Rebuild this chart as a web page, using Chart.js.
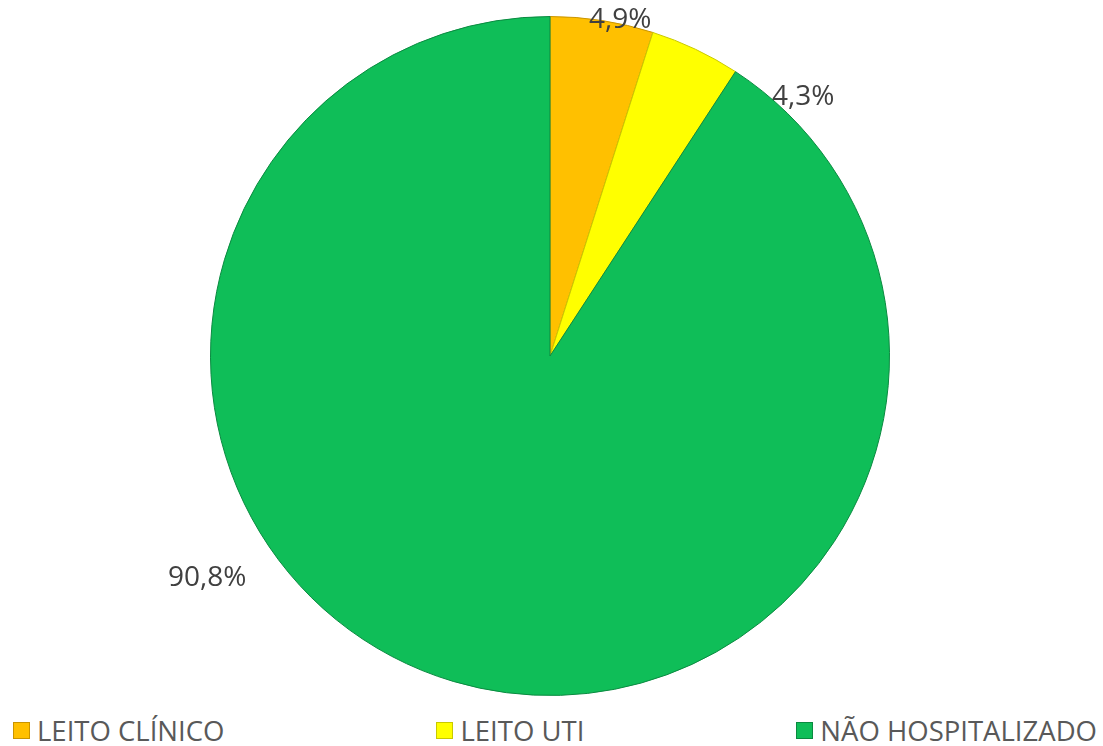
<!DOCTYPE html>
<html>
<head>
<meta charset="utf-8">
<script src="https://cdn.jsdelivr.net/npm/chart.js@4.4.1/dist/chart.umd.min.js"></script>
<style>
  html, body { margin:0; padding:0; background:#fff; }
  #wrap { position:relative; width:1103px; height:712px; }
  #legend { display:flex; justify-content:space-between; align-items:center; height:36px;
            padding:0 6px 0 13px; font-family:"Open Sans", sans-serif; font-size:27.5px; color:#595959; }
  #legend span.item { display:flex; align-items:center; white-space:nowrap; }
  #legend i { display:inline-block; width:17px; height:17px; margin-right:7px; box-sizing:border-box; }
</style>
</head>
<body>
<div id="wrap"><canvas id="pie"></canvas></div>
<div id="legend"></div>
<script>
const categories = ['LEITO CLÍNICO', 'LEITO UTI', 'NÃO HOSPITALIZADO'];
const shares = [4.9, 4.3, 90.8];
const labels = ['4,9%', '4,3%', '90,8%'];
const colors = ['#FFC000', '#FFFF00', '#0FBE58'];
const edgeColors = ['#C99400', '#C9C900', '#0A8A40'];
// where Excel put each percentage: angle shift from slice middle (deg) and radius factor
const labelShift = [3.0, 19.0, 40.5];
const labelDist = [1.01, 1.066, 1.203];

const pctLabels = {
  id: 'pctLabels',
  afterDatasetsDraw(chart){
    const ctx = chart.ctx;
    const meta = chart.getDatasetMeta(0);
    ctx.save();
    ctx.font = '28px "Open Sans", sans-serif';
    ctx.fillStyle = '#404040';
    ctx.textAlign = 'center';
    ctx.textBaseline = 'middle';
    meta.data.forEach((arc, i) => {
      const a = (arc.startAngle + arc.endAngle) / 2 + labelShift[i] * Math.PI / 180;
      const r = arc.outerRadius * labelDist[i];
      ctx.fillText(labels[i], arc.x + Math.cos(a) * r, arc.y + Math.sin(a) * r);
    });
    ctx.restore();
  }
};

const ctx = document.getElementById('pie').getContext('2d');
new Chart(ctx, {
  type: 'pie',
  data: {
    labels: categories,
    datasets: [{ data: shares, backgroundColor: colors, borderColor: edgeColors, borderWidth: 1 }]
  },
  options: {
    responsive: true,
    maintainAspectRatio: false,
    animation: false,
    layout: { padding: { top: 16, bottom: 16, left: 0, right: 3 } },
    plugins: { legend: { display: false }, tooltip: { enabled: false } }
  },
  plugins: [pctLabels]
});

const legend = document.getElementById('legend');
categories.forEach((c, i) => {
  const s = document.createElement('span');
  s.className = 'item';
  s.innerHTML = `<i style="background:${colors[i]};border:1px solid ${edgeColors[i]}"></i>${c}`;
  legend.appendChild(s);
});
</script>
</body>
</html>
